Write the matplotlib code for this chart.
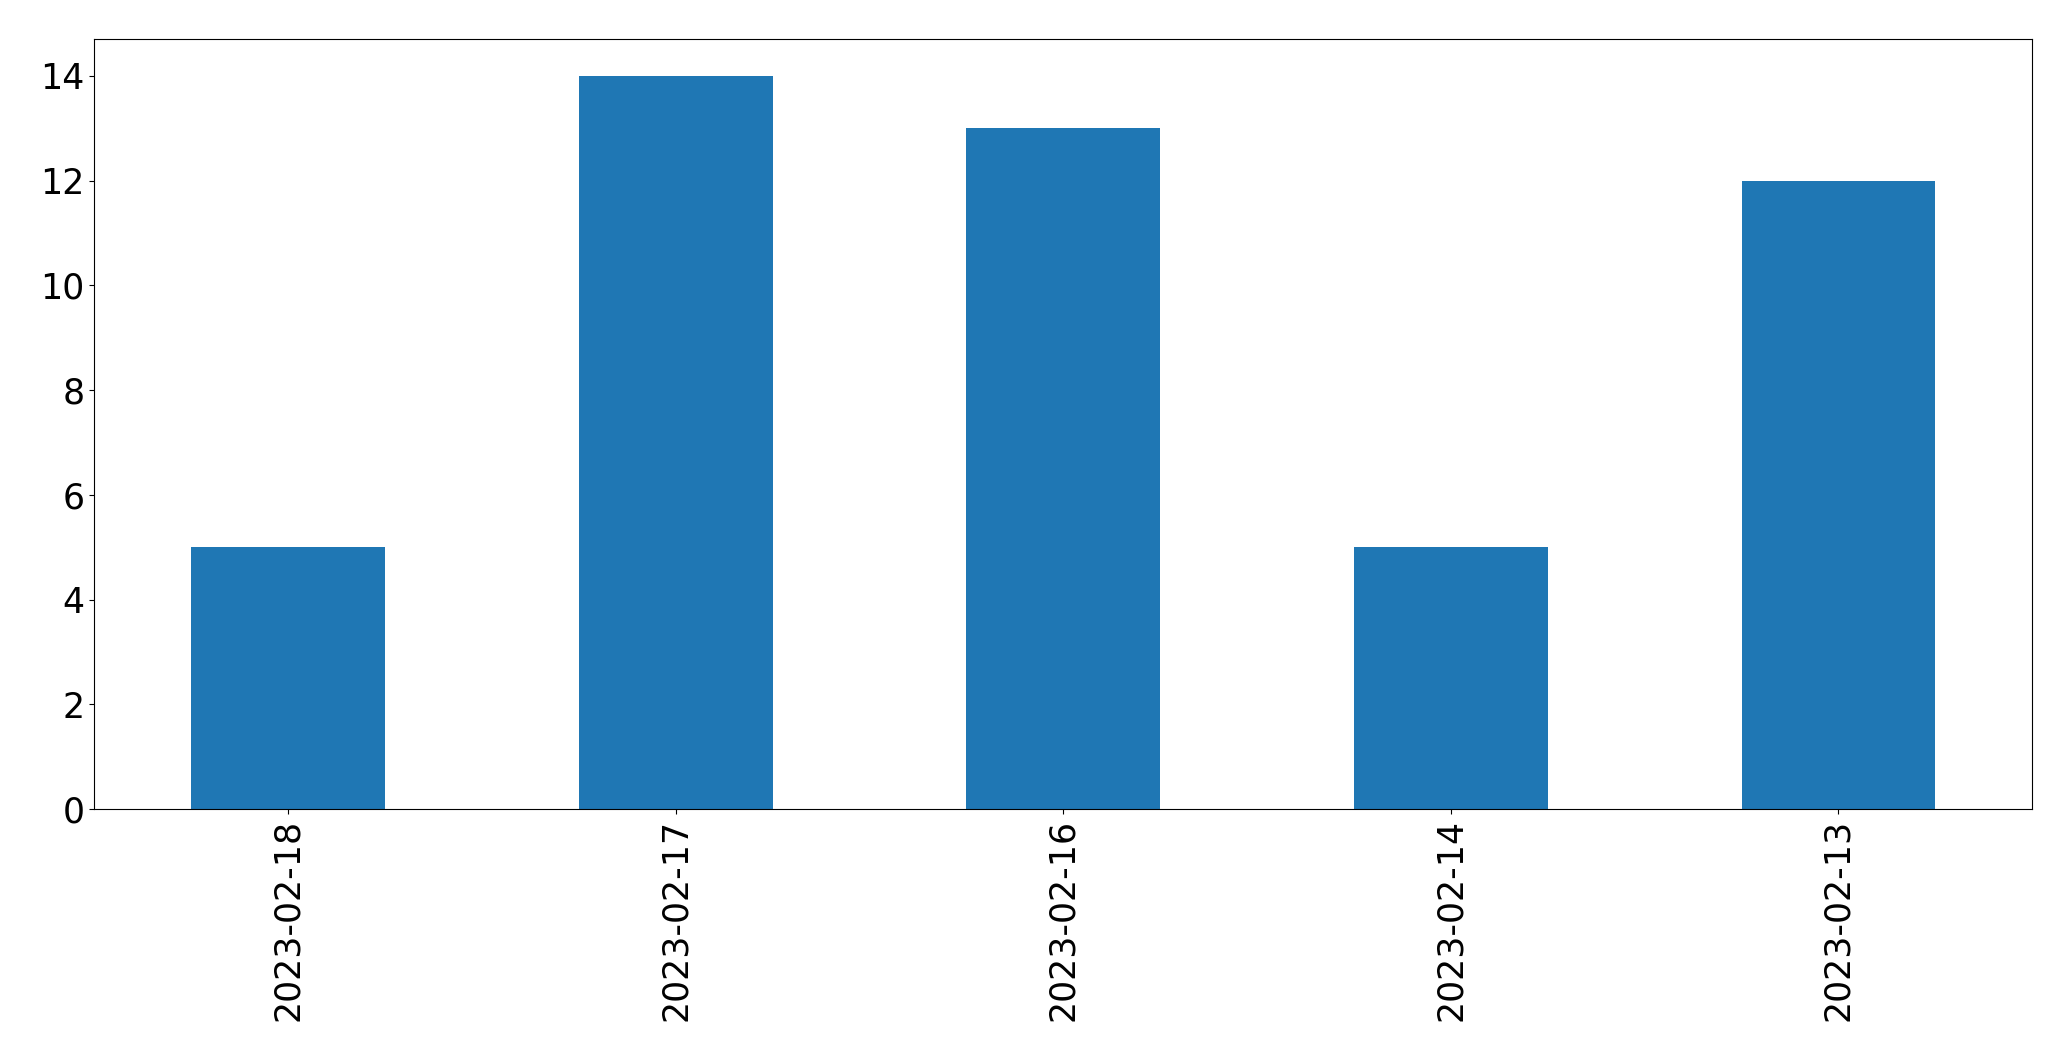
import matplotlib
matplotlib.use("Agg")
import matplotlib.pyplot as plt
import pandas as pd

# dates and counts, in the order they are shown
dates = ["2023-02-18", "2023-02-17", "2023-02-16", "2023-02-14", "2023-02-13"]
counts = [5, 14, 13, 5, 12]

s = pd.Series(counts, index=dates)

fig = plt.figure(figsize=(20.71, 10.61), dpi=100)
ax = fig.add_subplot(111)
s.plot(kind="bar", ax=ax, fontsize=25)
fig.subplots_adjust(left=0.0455, right=0.9813, top=0.963, bottom=0.2375)

fig.savefig("out.png", dpi=100)
